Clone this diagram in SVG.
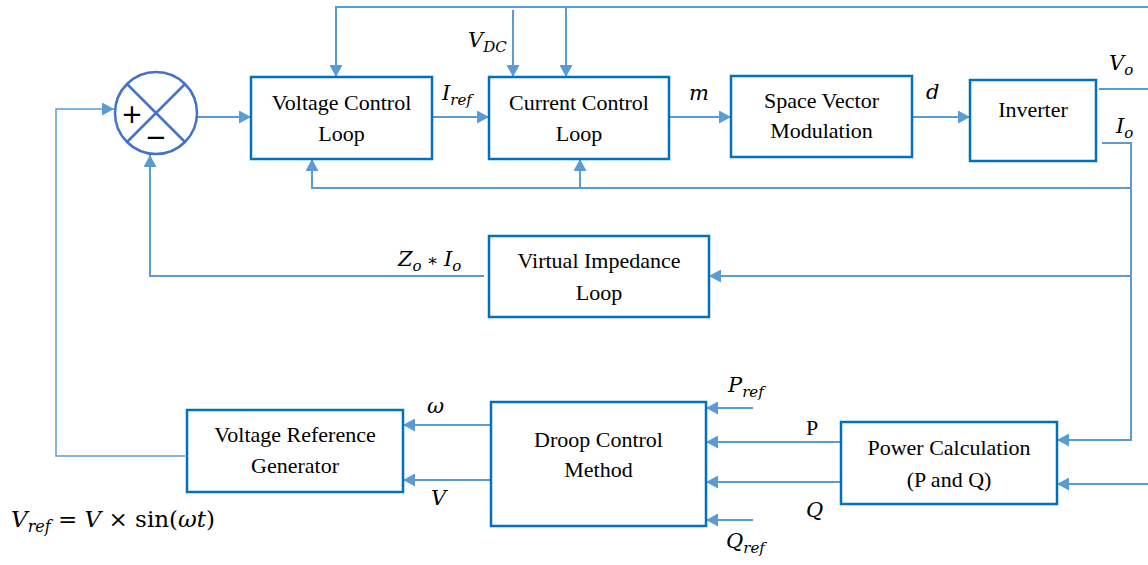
<svg xmlns="http://www.w3.org/2000/svg" width="1148" height="565" viewBox="0 0 1148 565">
<style>
.box{fill:#fff;stroke:#0070C0;stroke-width:2.5}
.ln{fill:none;stroke:#5B9BD5;stroke-width:2}
.ar{marker-end:url(#ah)}
.t{font-family:"Liberation Serif","Times New Roman",serif;font-size:22px;fill:#000;text-anchor:middle}
.m{font-family:"DejaVu Serif",serif;font-style:italic;font-size:21px;fill:#000}
.s{font-size:15px}
</style>
<defs>
<marker id="ah" markerUnits="userSpaceOnUse" markerWidth="12" markerHeight="13" viewBox="0 0 12 13" refX="12" refY="6.5" orient="auto">
<path d="M0,0 L12,6.5 L0,13 z" fill="#5B9BD5"/>
</marker>
</defs>
<rect width="1148" height="565" fill="#fff"/>

<g id="connectors">
<path class="ln ar" d="M1148,7 H336 V77"/>
<path class="ln ar" d="M566,7 V77"/>
<path class="ln ar" d="M513,10 V77"/>
<path class="ln ar" d="M197,117 H251"/>
<path class="ln ar" d="M432,117 H489"/>
<path class="ln ar" d="M669,117 H731"/>
<path class="ln ar" d="M912,117 H970"/>
<path class="ln" d="M1099,89 H1148"/>
<path class="ln ar" d="M1102,143 H1131 V440 H1057"/>
<path class="ln ar" d="M1131,188 H312 V159"/>
<path class="ln ar" d="M580,188 V159"/>
<path class="ln ar" d="M1131,276 H709"/>
<path class="ln ar" d="M484,276 H150 V155"/>
<path class="ln ar" style="stroke-width:1.5" d="M185,456 H56 V109 H114"/>
<path class="ln ar" d="M490,425 H403"/>
<path class="ln ar" d="M490,480 H403"/>
<path class="ln ar" d="M753,408 H706"/>
<path class="ln ar" d="M841,442 H706"/>
<path class="ln ar" d="M841,482 H706"/>
<path class="ln ar" d="M753,520 H706"/>
<path class="ln ar" d="M1148,484 H1057"/>
</g>

<g id="sum">
<circle cx="156" cy="113" r="41" fill="#fff" stroke="#4472C4" stroke-width="2.5"/>
<path d="M127,84 L185,142 M185,84 L127,142" stroke="#4472C4" stroke-width="2.5"/>
<text x="132" y="123" font-family="DejaVu Sans,sans-serif" font-size="26" text-anchor="middle">+</text>
<text x="156" y="146" font-family="DejaVu Sans,sans-serif" font-size="26" text-anchor="middle">−</text>
</g>

<g id="vcl">
<rect class="box" x="251" y="77" width="181" height="82"/>
<text class="t" x="341.5" y="110">Voltage Control</text>
<text class="t" x="341.5" y="141">Loop</text>
</g>
<g id="ccl">
<rect class="box" x="489" y="77" width="180" height="82"/>
<text class="t" x="579" y="110">Current Control</text>
<text class="t" x="579" y="141">Loop</text>
</g>
<g id="svm">
<rect class="box" x="731" y="76" width="181" height="81"/>
<text class="t" x="821.5" y="108">Space Vector</text>
<text class="t" x="821.5" y="138">Modulation</text>
</g>
<g id="inv">
<rect class="box" x="970" y="80" width="126" height="81"/>
<text class="t" x="1033" y="117">Inverter</text>
</g>
<g id="vil">
<rect class="box" x="489" y="236" width="220" height="81"/>
<text class="t" x="599" y="268">Virtual Impedance</text>
<text class="t" x="599" y="300">Loop</text>
</g>
<g id="vrg">
<rect class="box" x="187" y="410" width="216" height="82"/>
<text class="t" x="295" y="442">Voltage Reference</text>
<text class="t" x="295" y="473">Generator</text>
</g>
<g id="dcm">
<rect class="box" x="491" y="402" width="215" height="124"/>
<text class="t" x="598.5" y="447">Droop Control</text>
<text class="t" x="598.5" y="477">Method</text>
</g>
<g id="pc">
<rect class="box" x="841" y="422" width="216" height="82"/>
<text class="t" x="949" y="455">Power Calculation</text>
<text class="t" x="949" y="487">(P and Q)</text>
</g>

<g id="labels">
<text class="m" x="468" y="47">V<tspan class="s" dy="5">DC</tspan></text>
<text class="m" x="442" y="100">I<tspan class="s" dy="5">ref</tspan></text>
<text class="m" x="689" y="100">m</text>
<text class="m" x="926" y="99">d</text>
<text class="m" x="1109" y="70">V<tspan class="s" dy="5">o</tspan></text>
<text class="m" x="1116" y="133">I<tspan class="s" dy="5">o</tspan></text>
<text class="m" x="398" y="266">Z<tspan class="s" dy="5">o</tspan><tspan dy="-5" font-style="normal" font-size="17"> ∗ </tspan>I<tspan class="s" dy="5">o</tspan></text>
<text class="m" x="427" y="413">ω</text>
<text class="m" x="431" y="505">V</text>
<text class="m" x="728" y="392">P<tspan class="s" dy="5">ref</tspan></text>
<text x="806" y="435" font-family="Liberation Serif,serif" font-size="22">P</text>
<text class="m" x="806" y="517">Q</text>
<text class="m" x="726" y="548">Q<tspan class="s" dy="5">ref</tspan></text>
<text x="11" y="527" font-family="DejaVu Serif,serif" font-size="23"><tspan font-style="italic">V</tspan><tspan font-style="italic" font-size="16" dy="5">ref</tspan><tspan dy="-5"> = </tspan><tspan font-style="italic">V</tspan><tspan> × sin(</tspan><tspan font-style="italic">ωt</tspan><tspan>)</tspan></text>
</g>
</svg>
